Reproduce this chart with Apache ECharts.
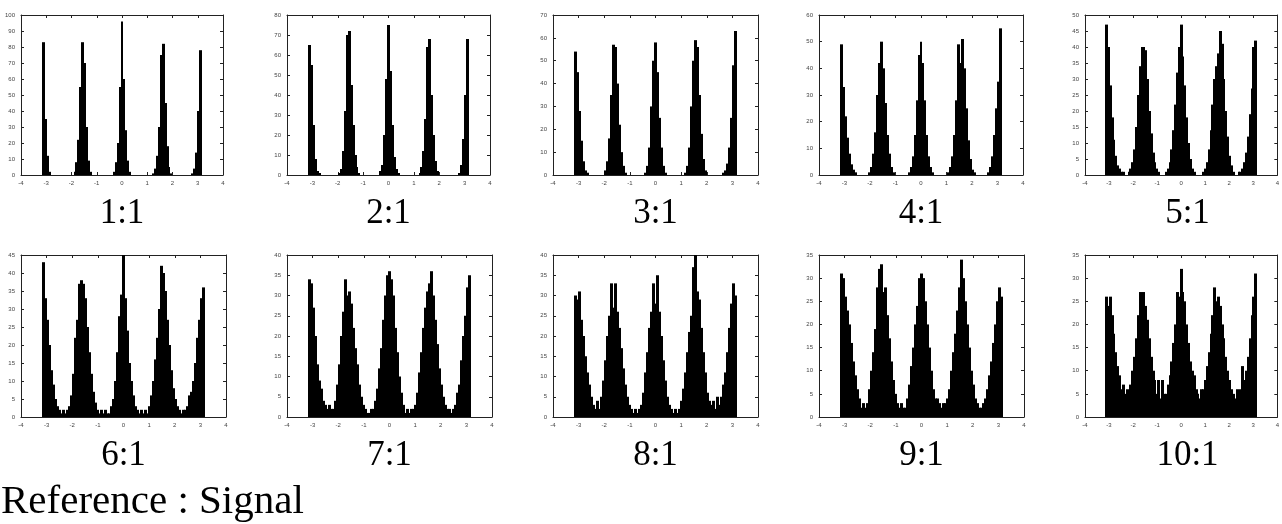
<!DOCTYPE html>
<html>
<head>
<meta charset="utf-8">
<title>Reference : Signal</title>
<script src="https://cdn.jsdelivr.net/npm/echarts@6/dist/echarts.min.js"></script>
<style>
html, body { margin: 0; padding: 0; background: #fff; }
#chart { width: 1282px; height: 524px; }
</style>
</head>
<body>
<div id="chart"></div>
<script>
// 子图标题（功率比）
var ratios = ['1:1', '2:1', '3:1', '4:1', '5:1', '6:1', '7:1', '8:1', '9:1', '10:1'];
// 每个子图的Y轴上限和刻度间隔
var yMax = [100, 80, 70, 60, 50, 45, 40, 40, 35, 35];
var yStep = [10, 10, 10, 10, 5, 5, 5, 5, 5, 5];
// X轴范围 -4 ~ 4
var xMin = -4, xMax = 4, xStep = 1;

// 直方图计数，81个区间，从 -pi 到 pi
var counts1 = [
  83,35,12,2,0,0,0,0,0,0,
  0,0,0,0,0,0,2,8,22,55,
  83,70,30,9,2,0,0,0,0,0,
  0,0,0,0,0,0,2,8,20,55,
  96,60,28,9,2,0,0,0,0,0,
  0,0,0,0,0,0,1,4,12,30,
  75,82,45,18,5,1,0,0,0,0,
  0,0,0,0,0,0,1,4,14,40,
  78];
var counts2 = [
  65,55,25,8,2,1,0,0,0,0,
  0,0,0,0,0,1,3,12,32,70,
  72,45,25,10,4,1,0,0,0,0,
  0,0,0,0,0,0,2,5,20,48,
  75,52,25,9,3,1,0,0,0,0,
  0,0,0,0,0,0,1,4,12,28,
  64,68,40,20,7,2,0,0,0,0,
  0,0,0,0,0,0,1,5,18,40,
  68];
var counts3 = [
  54,45,28,15,6,2,1,0,0,0,
  0,0,0,0,0,2,6,16,35,57,
  56,40,22,10,4,1,0,0,0,0,
  0,0,0,0,0,1,4,12,30,50,
  58,45,25,12,4,1,0,0,0,0,
  0,0,0,0,0,1,4,12,30,50,
  59,56,35,18,7,2,0,0,0,0,
  0,0,0,0,1,2,5,12,25,48,
  63];
var counts4 = [
  49,33,22,14,8,4,2,1,0,0,
  0,0,0,0,1,3,8,16,30,42,
  50,40,27,15,8,3,1,0,0,0,
  0,0,0,0,1,3,7,15,28,45,
  50,42,28,15,7,3,1,0,0,0,
  0,0,0,0,1,3,7,15,28,49,
  42,51,40,25,13,6,2,1,0,0,
  0,0,0,0,1,3,7,15,25,35,
  55];
var counts5 = [
  47,40,28,18,11,6,3,2,1,1,
  0,0,1,2,4,8,15,25,34,40,
  40,39,30,20,13,7,4,2,1,0,
  0,0,1,2,4,8,14,22,32,40,
  47,37,28,18,10,5,2,1,0,0,
  0,0,1,2,4,8,14,22,30,34,
  38,45,41,30,20,12,6,3,1,0,
  0,1,1,2,4,7,12,19,27,40,
  42];
var counts6 = [
  43,33,27,20,13,9,5,3,2,1,
  2,1,2,3,6,12,22,27,37,38,
  37,33,25,18,12,7,4,2,1,2,
  1,2,1,1,3,5,10,18,28,34,
  45,33,24,15,10,6,3,2,1,2,
  1,2,1,3,6,10,16,22,30,42,
  40,35,27,20,13,8,5,3,2,1,
  2,2,3,6,7,10,15,22,27,33,
  36];
var counts7 = [
  34,33,27,20,13,9,7,4,3,2,
  3,2,2,4,8,13,20,26,34,30,
  31,28,22,17,13,8,5,3,2,1,
  1,2,2,4,7,12,17,24,30,35,
  36,34,30,22,16,10,6,3,1,2,
  1,2,2,3,6,11,16,22,27,31,
  33,36,30,24,18,12,8,5,3,2,
  2,1,2,3,6,8,14,20,25,32,
  35];
var counts8 = [
  30,29,31,24,20,15,11,8,5,3,
  2,4,2,5,9,14,20,25,33,27,
  33,26,22,17,12,8,5,3,2,1,
  2,1,2,3,6,11,16,22,26,33,
  28,35,26,20,14,9,5,3,2,1,
  2,1,2,4,7,11,16,21,25,37,
  40,31,29,22,16,11,6,4,3,4,
  2,5,3,5,8,11,16,22,28,33,
  30];
var counts9 = [
  31,30,26,23,20,16,12,9,6,4,
  2,3,2,3,6,10,14,19,28,32,
  33,27,28,22,17,12,8,5,3,2,
  3,2,2,4,7,11,15,20,24,30,
  31,30,25,20,15,10,6,4,4,3,
  2,3,3,4,6,10,14,18,23,28,
  34,30,25,20,15,10,7,4,3,2,
  2,3,4,6,9,12,16,20,25,28,
  26];
var counts10 = [
  26,24,26,22,18,14,11,9,6,7,
  5,6,5,7,10,13,17,22,27,25,
  27,24,21,17,13,10,8,5,8,4,
  8,5,5,7,9,12,16,20,27,26,
  32,27,25,20,16,12,10,9,6,5,
  4,6,6,8,11,14,18,22,28,25,
  26,24,20,17,13,10,8,6,5,4,
  6,5,6,11,8,10,13,17,22,26,
  31];

var allCounts = [counts1, counts2, counts3, counts4, counts5,
                 counts6, counts7, counts8, counts9, counts10];

var binW = 2 * Math.PI / counts1.length;   // 区间宽度

// 布局（像素）
var boxLeft = [21, 287, 553, 819, 1085];
var boxWidth = [[202, 203, 205, 204, 205], [205, 205, 205, 205, 205]];
var boxTop = [15, 255];
var boxHeight = [160, 162];

var axisColor = '#222';
var labelStyle = { fontSize: 6, color: '#444', fontFamily: 'Liberation Sans' };

function renderBar(params, api) {
  var x = api.value(0), y = api.value(1);
  if (!y) return null;
  var p0 = api.coord([x - binW / 2, y]);
  var p1 = api.coord([x + binW / 2, 0]);
  var x0 = Math.floor(p0[0]), x1 = Math.ceil(p1[0]);
  return {
    type: 'rect',
    shape: { x: x0, y: p0[1], width: x1 - x0, height: p1[1] - p0[1] },
    style: { fill: '#000' }
  };
}

function frameAxis(extra) {
  return Object.assign({
    type: 'value',
    axisLine: { show: true, onZero: false, lineStyle: { color: axisColor, width: 1 } },
    axisTick: { show: true, inside: true, length: 3, lineStyle: { color: axisColor } },
    splitLine: { show: false }
  }, extra);
}

var grids = [], xAxes = [], yAxes = [], series = [], texts = [];

for (var i = 0; i < allCounts.length; i++) {
  var row = Math.floor(i / 5), col = i % 5;
  grids.push({
    left: boxLeft[col], top: boxTop[row],
    width: boxWidth[row][col], height: boxHeight[row]
  });
  // 下、上 X轴
  xAxes.push(frameAxis({
    gridIndex: i, min: xMin, max: xMax, interval: xStep,
    axisLabel: Object.assign({ margin: 5 }, labelStyle)
  }));
  xAxes.push(frameAxis({
    gridIndex: i, position: 'top', min: xMin, max: xMax, interval: xStep,
    axisLabel: { show: false }
  }));
  // 左、右 Y轴
  yAxes.push(frameAxis({
    gridIndex: i, position: 'left', min: 0, max: yMax[i], interval: yStep[i],
    axisLabel: Object.assign({ margin: 6 }, labelStyle)
  }));
  yAxes.push(frameAxis({
    gridIndex: i, position: 'right', min: 0, max: yMax[i], interval: yStep[i],
    axisLabel: { show: false }
  }));

  var data = allCounts[i].map(function (v, k) {
    return [-Math.PI + (k + 0.5) * binW, v];
  });
  series.push({
    type: 'custom', xAxisIndex: 2 * i, yAxisIndex: 2 * i,
    renderItem: renderBar, data: data, clip: true, silent: true,
    encode: { x: 0, y: 1 }
  });

  texts.push({
    type: 'text',
    x: boxLeft[col] + boxWidth[row][col] / 2,
    y: row === 0 ? 214 : 456,
    style: {
      text: ratios[i], fill: '#000',
      font: '35px "Liberation Serif"',
      align: 'center', verticalAlign: 'middle',
      textAlign: 'center', textVerticalAlign: 'middle'
    }
  });
}

texts.push({
  type: 'text', x: 1, y: 502,
  style: {
    text: 'Reference : Signal', fill: '#000',
    font: '41px "Liberation Serif"',
    align: 'left', verticalAlign: 'middle',
    textAlign: 'left', textVerticalAlign: 'middle'
  }
});

var myChart = echarts.init(document.getElementById('chart'));
myChart.setOption({
  animation: false,
  backgroundColor: '#fff',
  grid: grids,
  xAxis: xAxes,
  yAxis: yAxes,
  series: series,
  graphic: texts
});
</script>
</body>
</html>
